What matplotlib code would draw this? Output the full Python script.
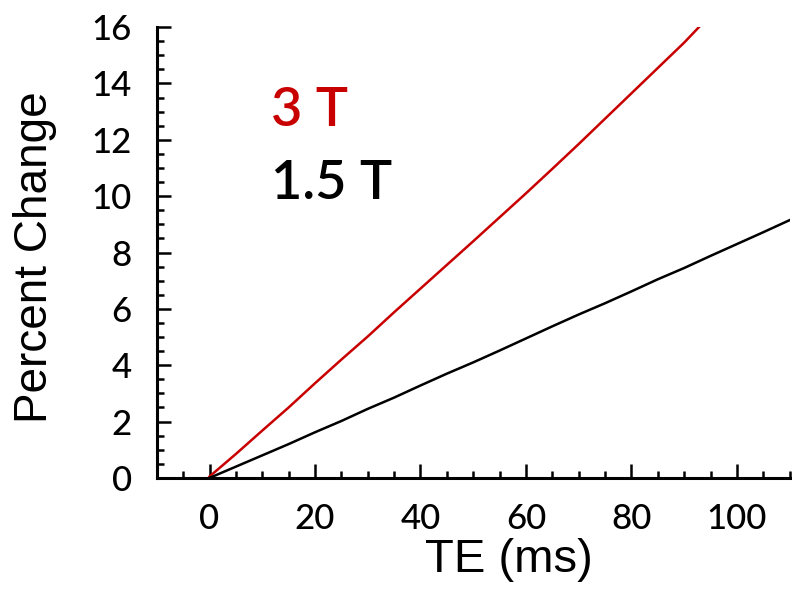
import numpy as np
import matplotlib
matplotlib.use("Agg")
import matplotlib.pyplot as plt
from matplotlib.ticker import MultipleLocator

# data (TE in ms, percent change)
te_3t = [0, 5, 10, 15, 20, 25, 30, 35, 40, 45, 50, 55, 60, 65, 70, 75, 80, 85, 90, 92.8]
pc_3t = [0.05, 0.85, 1.68, 2.5, 3.36, 4.2, 5.02, 5.88, 6.72, 7.56, 8.4, 9.25,
         10.1, 10.97, 11.85, 12.75, 13.65, 14.55, 15.45, 16.0]

te_15t = [0, 5, 10, 15, 20, 25, 30, 35, 40, 45, 50, 55, 60, 65, 70, 75, 80,
          85, 90, 95, 100, 105, 110]
pc_15t = [0.0, 0.4, 0.8, 1.2, 1.62, 2.02, 2.45, 2.85, 3.28, 3.7, 4.1, 4.52,
          4.95, 5.38, 5.8, 6.2, 6.62, 7.05, 7.45, 7.88, 8.3, 8.72, 9.15]

labels = ["3 T", "1.5 T"]
red = "#c80000"

plt.rcParams['font.family'] = ['Lato', 'DejaVu Sans']
helv = ['Liberation Sans', 'DejaVu Sans']

fig = plt.figure(figsize=(7.92, 5.9), dpi=100)
ax = fig.add_axes([0.198, 0.19, 0.799, 0.764])

ax.plot(te_3t, pc_3t, color=red, lw=1.8)
ax.plot(te_15t, pc_15t, color="black", lw=1.8)

ax.set_xlim(-10, 110)
ax.set_ylim(0, 16)
ax.xaxis.set_major_locator(MultipleLocator(20))
ax.xaxis.set_minor_locator(MultipleLocator(5))
ax.yaxis.set_major_locator(MultipleLocator(2))
ax.yaxis.set_minor_locator(MultipleLocator(0.5))

for s in ["top", "right"]:
    ax.spines[s].set_visible(False)
for s in ["left", "bottom"]:
    ax.spines[s].set_linewidth(2.2)

ax.tick_params(which="major", direction="in", length=10, width=1.8, labelsize=25, pad=18)
ax.tick_params(which="minor", direction="in", length=5, width=1.8)
for lab in ax.get_xticklabels() + ax.get_yticklabels():
    lab.set_fontweight("medium")

ax.set_xlabel("TE (ms)", fontsize=34, family=helv)
ax.set_ylabel("Percent Change", fontsize=33, family=helv)
ax.xaxis.set_label_coords(0.556, -0.133)
ax.yaxis.set_label_coords(-0.158, 0.49)

ax.text(11.7, 13.05, labels[0], color=red, fontsize=39, fontweight="semibold",
        va="center", ha="left")
ax.text(11.7, 10.45, labels[1], color="black", fontsize=39, fontweight="semibold",
        va="center", ha="left")

plt.savefig("out.png", dpi=100)
